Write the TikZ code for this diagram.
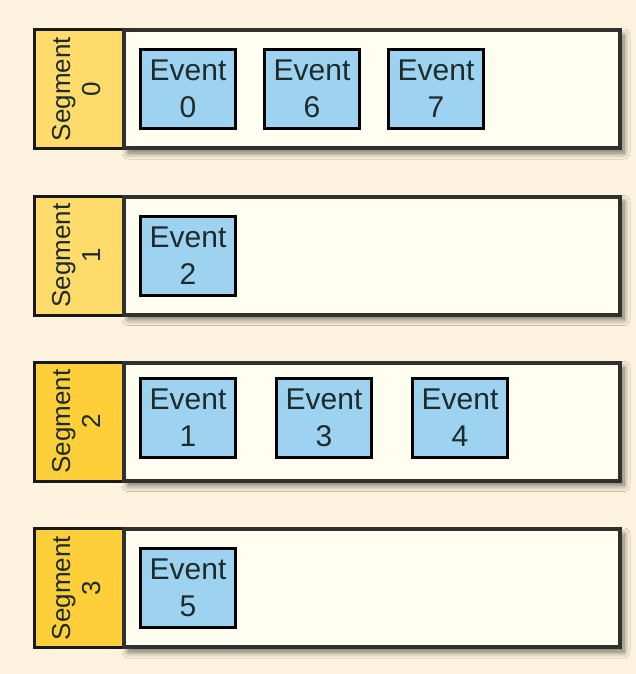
\documentclass[tikz,border=0pt]{standalone}
\usepackage{fontspec}
\setmainfont{Liberation Sans}
\usepackage{xcolor}
\usetikzlibrary{positioning, shadows.blur}

\definecolor{bgcream}{HTML}{FDF3DE}
\definecolor{segpale}{HTML}{FFDB6C}
\definecolor{segdeep}{HTML}{FFCF3A}
\definecolor{rowfill}{HTML}{FFFEF0}
\definecolor{rowline}{HTML}{30312C}
\definecolor{evfill}{HTML}{9DD3F1}
\definecolor{evtext}{HTML}{1E2B2B}

\begin{document}
\begin{tikzpicture}[
    x=0.5pt, y=-0.5pt,
    node distance=13pt,
    seg/.style={draw=black!90, line width=1.5pt, fill=segpale, minimum width=44.5pt, minimum height=59.5pt, inner sep=0pt,
      font=\fontsize{13}{15}\selectfont, text=evtext},
    segb/.style={seg, fill=segdeep},
    row/.style={draw=rowline, line width=2pt, fill=rowfill, minimum width=248pt, minimum height=59pt, inner sep=0pt,
      blur shadow={shadow blur steps=8, shadow blur radius=3pt, shadow xshift=2pt, shadow yshift=-2.5pt, shadow opacity=55}},
    ev/.style={draw=black, line width=1.5pt, fill=evfill, minimum width=47.5pt, minimum height=39.5pt, inner sep=0pt,
      align=center, font=\fontsize{15}{18.5}\selectfont, text=evtext},
  ]
  \fill[bgcream] (0,0) rectangle (636,674);
  \useasboundingbox (0,0) rectangle (636,674);
  % Segment 0
  \node[seg] (seg0) at (79,89) {\rotatebox{90}{\begin{tabular}{@{}c@{}}Segment\\0\end{tabular}}};
  \node[row, right=-1.5pt of seg0] (row0) {};
  \node[ev, right=8.5pt of row0.west] (ev0) {Event\\0};
  \node[ev, right=of ev0] (ev6) {Event\\6};
  \node[ev, right=of ev6] (ev7) {Event\\7};
  % Segment 1
  \node[seg] (seg1) at (79,255.5) {\rotatebox{90}{\begin{tabular}{@{}c@{}}Segment\\1\end{tabular}}};
  \node[row, right=-1.5pt of seg1] (row1) {};
  \node[ev, right=8.5pt of row1.west] (ev2) {Event\\2};
  % Segment 2
  \node[segb] (seg2) at (79,421.5) {\rotatebox{90}{\begin{tabular}{@{}c@{}}Segment\\2\end{tabular}}};
  \node[row, right=-1.5pt of seg2] (row2) {};
  \node[ev, right=8.5pt of row2.west, yshift=2pt] (ev1) {Event\\1};
  \node[ev, right=19pt of ev1] (ev3) {Event\\3};
  \node[ev, right=19pt of ev3] (ev4) {Event\\4};
  % Segment 3
  \node[segb] (seg3) at (79,588) {\rotatebox{90}{\begin{tabular}{@{}c@{}}Segment\\3\end{tabular}}};
  \node[row, right=-1.5pt of seg3] (row3) {};
  \node[ev, right=8.5pt of row3.west] (ev5) {Event\\5};
\end{tikzpicture}
\end{document}
